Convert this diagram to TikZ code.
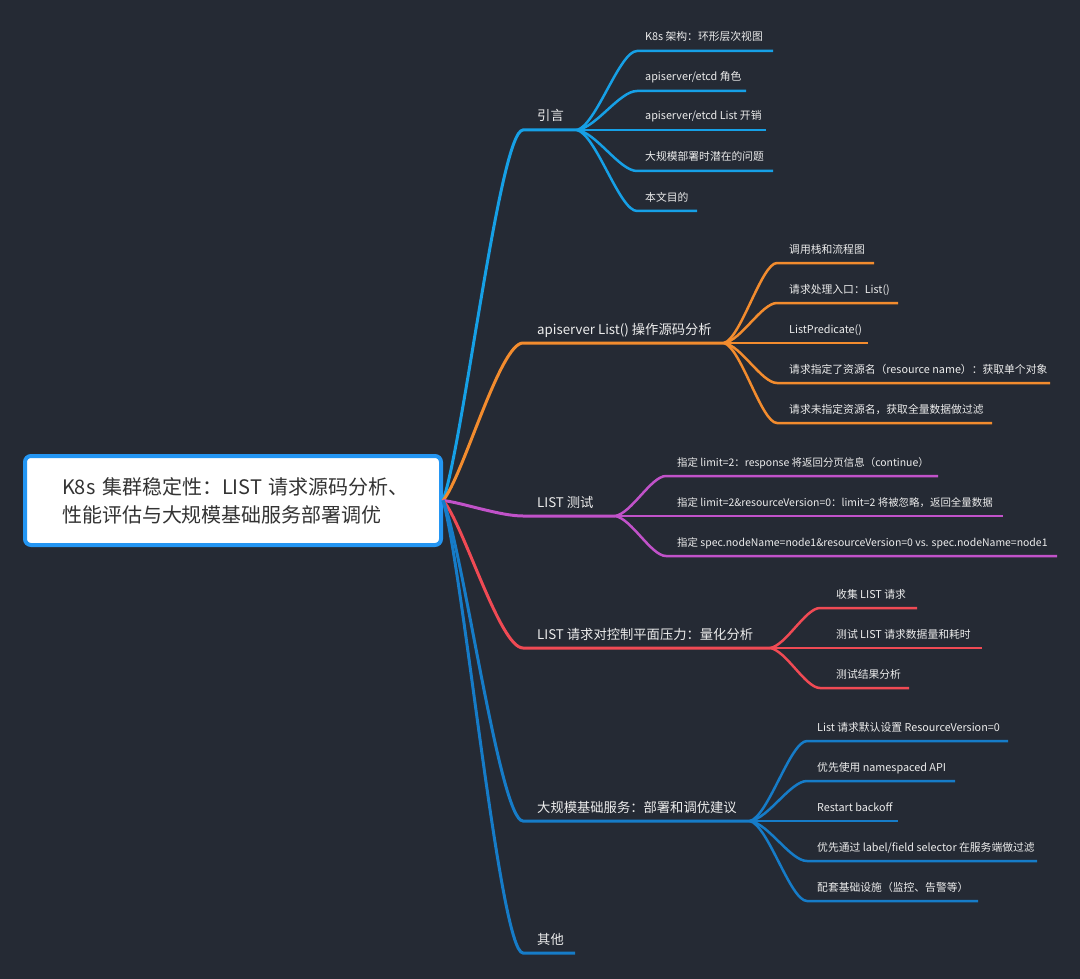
\documentclass[tikz,border=0pt]{standalone}
\usepackage{fontspec}
\setmainfont{Noto Sans CJK SC}
\usetikzlibrary{calc}
\definecolor{bg}{RGB}{37,42,52}
\definecolor{cA}{RGB}{22,160,230}
\definecolor{cB}{RGB}{243,140,46}
\definecolor{cC}{RGB}{193,82,201}
\definecolor{cD}{RGB}{240,74,84}
\definecolor{cE}{RGB}{22,124,200}
\definecolor{rootblue}{RGB}{36,150,243}
\definecolor{roottext}{RGB}{51,51,51}
\definecolor{lighttext}{RGB}{236,236,236}
\tikzset{
  rootbox/.style={draw=rootblue, line width=4pt, fill=white, rounded corners=6pt,
    minimum width=416pt, minimum height=89pt, text width=395pt, inner xsep=10.5pt,
    inner ysep=0pt, align=left, text=roottext, font=\fontsize{20}{28}\selectfont},
  btext/.style={anchor=base west, inner sep=0pt, text=lighttext, font=\fontsize{13.3}{16}\selectfont},
  ltext/.style={anchor=base west, inner sep=0pt, text=lighttext, font=\fontsize{10.8}{13}\selectfont},
  ltextn/.style={ltext, font=\fontsize{10.45}{13}\selectfont},
  bline/.style={line width=3pt},
  lline/.style={line width=2.5pt},
  rootcurve/.style={to path={let \p1=(\tikztostart), \p2=(\tikztotarget) in
     .. controls ({\x1+0.25*(\x2-\x1)},{\y1+0.15*(\y2-\y1)}) and ({\x2-0.29*(\x2-\x1)},{\y2}) .. (\p2)}},
  leafcurve/.style={to path={let \p1=(\tikztostart), \p2=(\tikztotarget) in
     .. controls ({\x1+0.32*(\x2-\x1)},{\y1+0.06*(\y2-\y1)}) and ({\x2-0.29*(\x2-\x1)},{\y2}) .. (\p2)}},
}
\begin{document}
\begin{tikzpicture}[x=1pt,y=-1pt]
\fill[bg] (0,0) rectangle (1080,979);
\useasboundingbox (0,0) rectangle (1080,979);

% root
\node[rootbox] (root) at (233,500.5) {\hspace*{26.5pt}K8s 集群稳定性：LIST 请求源码分析、\\\hspace*{26.5pt}性能评估与大规模基础服务部署调优};

% ---------- branch 1 ----------
\node[btext] (b1) at (537,121) {引言};
\coordinate (b1s) at (523,130); \coordinate (b1j) at (577,130);
\draw[bline,cA] (root.east) to[rootcurve] (b1s) -- (b1j);
\node[ltext] (l11) at (645,41) {K8s 架构：环形层次视图};
\node[ltext] (l12) at (645,81) {apiserver/etcd 角色};
\node[ltext] (l13) at (645,120) {apiserver/etcd List 开销};
\node[ltext] (l14) at (645,161) {大规模部署时潜在的问题};
\node[ltext] (l15) at (645,201) {本文目的};
\coordinate (l11s) at (637,51);  \coordinate (l11e) at (773,51);
\coordinate (l12s) at (637,91);  \coordinate (l12e) at (746,91);
\coordinate (l13s) at (637,130); \coordinate (l13e) at (766,130);
\coordinate (l14s) at (637,171); \coordinate (l14e) at (773,171);
\coordinate (l15s) at (637,211); \coordinate (l15e) at (697,211);
\foreach \i in {1,...,5}{\draw[lline,cA] (b1j) to[leafcurve] (l1\i s) -- (l1\i e);}

% ---------- branch 2 ----------
\node[btext] (b2) at (537,334) {apiserver List() 操作源码分析};
\coordinate (b2s) at (523,343); \coordinate (b2j) at (724,343);
\draw[bline,cB] (root.east) to[rootcurve] (b2s) -- (b2j);
\node[ltext] (l21) at (789,253) {调用栈和流程图};
\node[ltext] (l22) at (789,293) {请求处理入口：List()};
\node[ltext] (l23) at (789,333) {ListPredicate()};
\node[ltext] (l24) at (789,373) {请求指定了资源名（resource name）：获取单个对象};
\node[ltext] (l25) at (789,413) {请求未指定资源名，获取全量数据做过滤};
\coordinate (l21s) at (777,263); \coordinate (l21e) at (874,263);
\coordinate (l22s) at (777,303); \coordinate (l22e) at (898,303);
\coordinate (l23s) at (777,343); \coordinate (l23e) at (868,343);
\coordinate (l24s) at (777,383); \coordinate (l24e) at (1050,383);
\coordinate (l25s) at (777,423); \coordinate (l25e) at (992,423);
\foreach \i in {1,...,5}{\draw[lline,cB] (b2j) to[leafcurve] (l2\i s) -- (l2\i e);}

% ---------- branch 3 ----------
\node[btext] (b3) at (537,507) {LIST 测试};
\coordinate (b3s) at (523,516); \coordinate (b3j) at (615,516);
\draw[bline,cC] (root.east) to[rootcurve] (b3s) -- (b3j);
\node[ltextn] (l31) at (677,466) {指定 limit=2：response 将返回分页信息（continue）};
\node[ltextn] (l32) at (677,506) {指定 limit=2\&resourceVersion=0：limit=2 将被忽略，返回全量数据};
\node[ltextn] (l33) at (677,546) {指定 spec.nodeName=node1\&resourceVersion=0 vs. spec.nodeName=node1};
\coordinate (l31s) at (666,476); \coordinate (l31e) at (938,476);
\coordinate (l32s) at (666,516); \coordinate (l32e) at (1003,516);
\coordinate (l33s) at (666,556); \coordinate (l33e) at (1057,556);
\foreach \i in {1,...,3}{\draw[lline,cC] (b3j) to[leafcurve] (l3\i s) -- (l3\i e);}

% ---------- branch 4 ----------
\node[btext] (b4) at (537,639) {LIST 请求对控制平面压力：量化分析};
\coordinate (b4s) at (523,648); \coordinate (b4j) at (770,648);
\draw[bline,cD] (root.east) to[rootcurve] (b4s) -- (b4j);
\node[ltext] (l41) at (836,598) {收集 LIST 请求};
\node[ltext] (l42) at (836,638) {测试 LIST 请求数据量和耗时};
\node[ltext] (l43) at (836,678) {测试结果分析};
\coordinate (l41s) at (820,608); \coordinate (l41e) at (917,608);
\coordinate (l42s) at (820,648); \coordinate (l42e) at (982,648);
\coordinate (l43s) at (820,688); \coordinate (l43e) at (909,688);
\foreach \i in {1,...,3}{\draw[lline,cD] (b4j) to[leafcurve] (l4\i s) -- (l4\i e);}

% ---------- branch 5 ----------
\node[btext] (b5) at (537,812) {大规模基础服务：部署和调优建议};
\coordinate (b5s) at (523,821); \coordinate (b5j) at (750,821);
\draw[bline,cE] (root.east) to[rootcurve] (b5s) -- (b5j);
\node[ltext] (l51) at (817,731) {List 请求默认设置 ResourceVersion=0};
\node[ltext] (l52) at (817,771) {优先使用 namespaced API};
\node[ltext] (l53) at (817,811) {Restart backoff};
\node[ltext] (l54) at (817,851) {优先通过 label/field selector 在服务端做过滤};
\node[ltext] (l55) at (817,891) {配套基础设施（监控、告警等）};
\coordinate (l51s) at (807,741); \coordinate (l51e) at (1008,741);
\coordinate (l52s) at (807,781); \coordinate (l52e) at (955,781);
\coordinate (l53s) at (807,821); \coordinate (l53e) at (898,821);
\coordinate (l54s) at (807,861); \coordinate (l54e) at (1037,861);
\coordinate (l55s) at (807,901); \coordinate (l55e) at (978,901);
\foreach \i in {1,...,5}{\draw[lline,cE] (b5j) to[leafcurve] (l5\i s) -- (l5\i e);}

% ---------- branch 6 ----------
\node[btext] (b6) at (537,944) {其他};
\coordinate (b6s) at (523,953); \coordinate (b6j) at (575,953);
\draw[bline,cE] (root.east) to[rootcurve] (b6s) -- (b6j);
\end{tikzpicture}
\end{document}
